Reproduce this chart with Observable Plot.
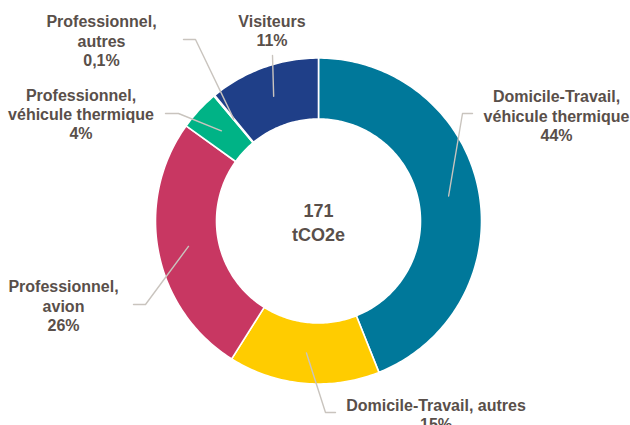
<!DOCTYPE html>
<html>
<head>
<meta charset="utf-8">
<script src="https://cdn.jsdelivr.net/npm/d3@7"></script>
<script src="https://cdn.jsdelivr.net/npm/@observablehq/plot@0.6"></script>
<style>
  html, body { margin: 0; padding: 0; background: #fff; }
  #chart svg { display: block; }
</style>
</head>
<body>
<div id="chart"></div>
<script>
// ---- Data ----
const categories = [
  "Domicile-Travail, véhicule thermique",
  "Domicile-Travail, autres",
  "Professionnel, avion",
  "Professionnel, véhicule thermique",
  "Professionnel, autres",
  "Visiteurs"
];
const values = [44, 15, 26, 4, 0.1, 11];
const labelTexts = [
  "Domicile-Travail,\nvéhicule thermique\n44%",
  "Domicile-Travail, autres\n15%",
  "Professionnel,\navion\n26%",
  "Professionnel,\nvéhicule thermique\n4%",
  "Professionnel,\nautres\n0,1%",
  "Visiteurs\n11%"
];
const centerText = "171\ntCO2e";
const colors = ["#00789A", "#FFCC00", "#C83762", "#00B386", "#6f8f3a", "#1F3F88"];

// ---- Layout (pixels) ----
const cx = 318, cy = 220.5, rOuter = 163, rInner = 102;
const labelPos = [[556, 115], [435.5, 413.5], [63, 305], [80.5, 113.5], [101, 40], [271.5, 30]];
const leaderStart = [[472, 113], [335, 412], [133, 304], [165, 113], [183, 39], [272, 55]];
const leaderElbow = [[462, 113], [325, 412], [145, 304], [178, 113], [195, 39], null];

// ---- Build geometry from data ----
const pie = d3.pie().sort(null).value(d => d)(values);
const pt = (a, r) => [cx + r * Math.sin(a), cy - r * Math.cos(a)];

const slicePts = [];
pie.forEach((p, i) => {
  const n = Math.max(2, Math.ceil((p.endAngle - p.startAngle) / (Math.PI / 180)));
  const outer = d3.range(n + 1).map(k => p.startAngle + (p.endAngle - p.startAngle) * k / n);
  outer.forEach(a => { const [x, y] = pt(a, rOuter); slicePts.push({cat: categories[i], x, y}); });
  outer.slice().reverse().forEach(a => { const [x, y] = pt(a, rInner); slicePts.push({cat: categories[i], x, y}); });
});

const leaderPts = [];
pie.forEach((p, i) => {
  const mid = (p.startAngle + p.endAngle) / 2;
  const [ex, ey] = pt(mid, (rOuter + rInner) / 2);
  const s = leaderStart[i];
  leaderPts.push({cat: categories[i], x: s[0], y: s[1]});
  if (leaderElbow[i]) leaderPts.push({cat: categories[i], x: leaderElbow[i][0], y: leaderElbow[i][1]});
  leaderPts.push({cat: categories[i], x: ex, y: ey});
});

const labels = categories.map((c, i) => ({cat: c, text: labelTexts[i], x: labelPos[i][0], y: labelPos[i][1]}));

const chart = Plot.plot({
  width: 630,
  height: 425,
  margin: 0,
  style: {fontFamily: "'Liberation Sans', Arial, sans-serif", background: "#fff"},
  x: {domain: [0, 630], range: [0, 630], axis: null},
  y: {domain: [0, 425], range: [0, 425], axis: null},
  color: {domain: categories, range: colors},
  marks: [
    Plot.line(slicePts, {x: "x", y: "y", z: "cat", fill: "cat", stroke: "white", strokeWidth: 1.6, curve: "linear-closed"}),
    Plot.line(leaderPts, {x: "x", y: "y", z: "cat", stroke: "#c9c4be", strokeWidth: 1.4}),
    Plot.text(labels, {x: "x", y: "y", text: "text", fill: "#594f4a", fontSize: 16, fontWeight: "bold", lineHeight: 1.2, textAnchor: "middle"}),
    Plot.text([centerText], {x: [cx], y: [cy], text: d => d, fill: "#594f4a", fontSize: 18, fontWeight: "bold", lineHeight: 1.33, textAnchor: "middle"})
  ]
});
document.getElementById("chart").appendChild(chart);
</script>
</body>
</html>
